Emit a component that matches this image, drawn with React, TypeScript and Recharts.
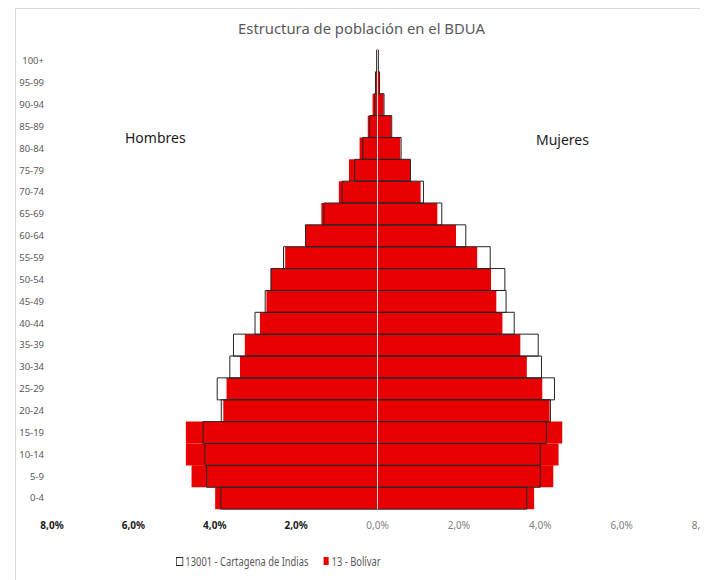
import React from "react";
import { BarChart, Bar, XAxis, YAxis, ReferenceLine } from "recharts";

const ageGroups = ["0-4","5-9","10-14","15-19","20-24","25-29","30-34","35-39","40-44","45-49","50-54","55-59","60-64","65-69","70-74","75-79","80-84","85-89","90-94","95-99","100+"];
const bolivarMen = [3.99,4.57,4.71,4.71,3.79,3.71,3.38,3.26,2.89,2.73,2.62,2.27,1.77,1.38,0.95,0.70,0.44,0.24,0.12,0.05,0.02];
const bolivarWomen = [3.85,4.32,4.45,4.54,4.23,4.05,3.67,3.51,3.07,2.92,2.79,2.45,1.93,1.47,1.06,0.80,0.56,0.34,0.15,0.05,0.02];
const cartagenaMen = [3.85,4.20,4.24,4.29,3.84,3.94,3.63,3.54,3.01,2.76,2.62,2.31,1.77,1.32,0.87,0.56,0.36,0.19,0.07,0.05,0.02];
const cartagenaWomen = [3.67,4.00,4.00,4.15,4.25,4.35,4.03,3.95,3.36,3.16,3.13,2.77,2.17,1.58,1.13,0.81,0.58,0.35,0.16,0.05,0.02];
const xTicks = [-8,-6,-4,-2,0,2,4,6,8];
const seriesNames = ["13001 - Cartagena de Indias", "13 - Bolívar"];
const titleText = "Estructura de población en el BDUA";

const data = ageGroups.map((age, i) => ({
  age,
  bm: -bolivarMen[i],
  bw: bolivarWomen[i],
  cm: -cartagenaMen[i],
  cw: cartagenaWomen[i],
}));

const FONT = "'Noto Sans', 'Open Sans', sans-serif";

const fmt = (v: number) => Math.abs(v).toFixed(1).replace(".", ",") + "%";

const XTick = (props: any) => {
  const { x, y, payload } = props;
  const v = payload.value as number;
  const neg = v < 0;
  return (
    <text x={x} y={y + 12} textAnchor="middle" fontSize={10} fontFamily={FONT}
      fontWeight={neg ? 700 : 400} fill={neg ? "#1a1a1a" : "#7f7f7f"}>
      {fmt(v)}
    </text>
  );
};

export default function App() {
  return (
    <div style={{ position: "relative", marginLeft: 7, width: 700, height: 572, borderTop: "1px solid #d9d9d9", borderLeft: "1px solid #d9d9d9", fontFamily: FONT }}>
      <div style={{ position: "absolute", left: 0, width: 708, top: 9, textAlign: "center", fontSize: 14.8, color: "#595959", paddingRight: 17, boxSizing: "border-box" }}>
        {titleText}
      </div>
      <div style={{ position: "absolute", left: 109, top: 119, fontSize: 14, color: "#1a1a1a" }}>Hombres</div>
      <div style={{ position: "absolute", left: 520, top: 121, fontSize: 14, color: "#1a1a1a" }}>Mujeres</div>
      <BarChart width={693} height={572} data={data} layout="vertical" stackOffset="sign"
        barCategoryGap={0} barGap={0}
        margin={{ top: 41, right: 6, bottom: 42, left: 0 }}>
        <XAxis type="number" domain={[-8, 8]} ticks={xTicks} axisLine={false} tickLine={false}
          tick={<XTick />} interval={0} height={30} />
        <YAxis yAxisId="a" type="category" dataKey="age" reversed width={36} axisLine={false} tickLine={false}
          tick={{ fontSize: 9.5, fill: "#595959", fontFamily: FONT }} interval={0} />
        <YAxis yAxisId="b" type="category" dataKey="age" reversed hide />
        <Bar yAxisId="a" dataKey="bm" stackId="bol" fill="#E80000" isAnimationActive={false} name={seriesNames[1]} />
        <Bar yAxisId="a" dataKey="bw" stackId="bol" fill="#E80000" isAnimationActive={false} name={seriesNames[1]} />
        <Bar yAxisId="b" dataKey="cm" stackId="cart" fill="none" stroke="#262626" strokeWidth={1} isAnimationActive={false} name={seriesNames[0]} />
        <Bar yAxisId="b" dataKey="cw" stackId="cart" fill="none" stroke="#262626" strokeWidth={1} isAnimationActive={false} name={seriesNames[0]} />
        <ReferenceLine yAxisId="a" x={0} stroke="#ffffff" strokeOpacity={0.8} strokeWidth={1} />
      </BarChart>
      <div style={{ position: "absolute", left: 160, top: 543, fontSize: 13, color: "#595959", display: "flex", alignItems: "center", whiteSpace: "nowrap", transform: "scaleX(0.72)", transformOrigin: "left center" }}>
        <span style={{ display: "inline-block", width: 8, height: 7, border: "1px solid #262626", background: "#fff", marginRight: 3 }} />
        <span>{seriesNames[0]}</span>
        <span style={{ display: "inline-block", width: 7, height: 8, background: "#E80000", marginLeft: 21, marginRight: 4 }} />
        <span>{seriesNames[1]}</span>
      </div>
    </div>
  );
}
